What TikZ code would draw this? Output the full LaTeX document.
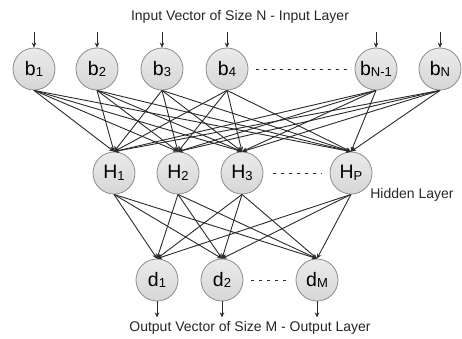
\documentclass[tikz,border=0pt]{standalone}
\usepackage{fontspec}
\setmainfont{Liberation Sans}
\usetikzlibrary{arrows.meta}
\definecolor{edgecol}{HTML}{2A2A2A}
\definecolor{rimcol}{HTML}{8C8C8C}
\newcommand{\lbl}[2]{#1\raisebox{-1.5pt}{\fontsize{13}{13}\selectfont #2}}
\begin{document}
\begin{tikzpicture}[x=1pt,y=-1pt,
  neuron/.style={circle,draw=rimcol,line width=0.8pt,minimum size=42pt,inner sep=0pt,
    top color=white!92!black,bottom color=white!84!black,
    font=\fontsize{19.5}{19.5}\selectfont},
  conn/.style={draw=edgecol,line width=0.9pt,-{Stealth[length=5pt,width=4.5pt]}},
  dotsl/.style={draw=edgecol,line width=0.8pt,dash pattern=on 3pt off 5pt},
  caption/.style={font=\fontsize{14}{14}\selectfont,text=black!85}]
\useasboundingbox (0,0) rectangle (462,338);
\node[caption] (tin) at (240,17) {Input Vector of Size N - Input Layer};
\node[caption] (tout) at (250,328) {Output Vector of Size M - Output Layer};
\node[caption] (thid) at (412,195) {Hidden Layer};
% input layer
\node[neuron] (b1) at (34,69) {\lbl{b}{1}};
\node[neuron] (b2) at (97,69) {\lbl{b}{2}};
\node[neuron] (b3) at (162,69) {\lbl{b}{3}};
\node[neuron] (b4) at (227,69) {\lbl{b}{4}};
\node[neuron] (b5) at (376,69) {\lbl{b}{N-1}};
\node[neuron] (b6) at (440,69) {\lbl{b}{N}};
% hidden layer
\node[neuron] (h1) at (114,173) {\lbl{H}{1}};
\node[neuron] (h2) at (178,173) {\lbl{H}{2}};
\node[neuron] (h3) at (242,173) {\lbl{H}{3}};
\node[neuron] (h4) at (351,173) {\lbl{H}{P}};
% output layer
\node[neuron] (d1) at (157,280) {\lbl{d}{1}};
\node[neuron] (d2) at (222,280) {\lbl{d}{2}};
\node[neuron] (d3) at (317,280) {\lbl{d}{M}};
% input arrows
\foreach \n in {b1,b2,b3,b4,b5,b6} {
  \coordinate (\n in) at ([yshift=16pt]\n.north);
  \draw[conn] (\n in) -- (\n.north);
}
% output arrows
\foreach \n in {d1,d2,d3} {
  \coordinate (\n out) at ([yshift=-16pt]\n.south);
  \draw[conn] (\n.south) -- (\n out);
}
% dotted gaps
\draw[dotsl] ([xshift=8pt]b4.east) -- ([xshift=-8pt]b5.west);
\draw[dotsl] ([xshift=10pt]h3.east) -- ([xshift=-8pt]h4.west);
\draw[dotsl] ([xshift=8pt]d2.east) -- ([xshift=-8pt]d3.west);
% connections
\foreach \b in {b1,b2,b3,b4,b5,b6} {
  \foreach \h in {h1,h2,h3,h4} {
    \draw[conn] (\b.south) -- (\h.north);
  }
}
\foreach \h in {h1,h2,h3,h4} {
  \foreach \d in {d1,d2,d3} {
    \draw[conn] (\h.south) -- (\d.north);
  }
}
\end{tikzpicture}
\end{document}
